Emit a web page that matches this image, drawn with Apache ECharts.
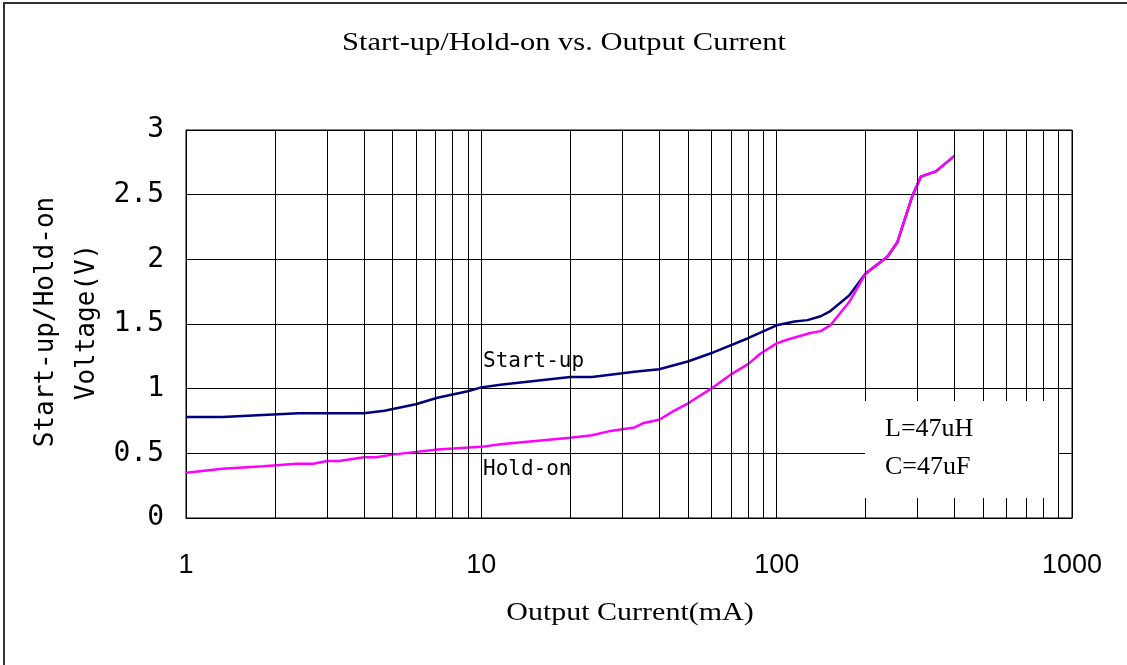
<!DOCTYPE html>
<html>
<head>
<meta charset="utf-8">
<title>Start-up/Hold-on vs. Output Current</title>
<script src="https://cdn.jsdelivr.net/npm/echarts@6/dist/echarts.min.js"></script>
<style>
  html, body { margin: 0; padding: 0; background: #fff; }
  #chart { width: 1127px; height: 665px; }
</style>
</head>
<body>
<div id="chart"></div>
<script>
// (mA, V)
const startUpCurrent = [1, 1.33, 2.4, 4.0, 4.7, 6.0, 7.1, 9.0, 10, 11.6, 20, 23.7, 33, 40, 50, 61, 80, 100, 115, 127, 141, 152, 176, 200, 237, 256, 288, 308, 346, 400]
const startUpVoltage = [0.78, 0.78, 0.81, 0.81, 0.83, 0.88, 0.93, 0.98, 1.01, 1.03, 1.09, 1.09, 1.13, 1.15, 1.21, 1.28, 1.39, 1.49, 1.52, 1.53, 1.56, 1.60, 1.72, 1.89, 2.02, 2.13, 2.49, 2.64, 2.68, 2.80]

const holdOnCurrent = [1, 1.33, 1.82, 2.37, 2.7, 3.0, 3.3, 4.0, 4.4, 5.0, 7.1, 10, 11.6, 20, 23.7, 27, 33, 35.5, 40, 45, 50, 60, 70, 80, 88, 100, 109, 130, 141, 152, 176, 200, 217, 237, 256, 288, 308, 346, 400]
const holdOnVoltage = [0.35, 0.38, 0.40, 0.42, 0.42, 0.44, 0.44, 0.47, 0.47, 0.49, 0.53, 0.55, 0.57, 0.62, 0.64, 0.67, 0.70, 0.735, 0.76, 0.83, 0.885, 1.00, 1.11, 1.19, 1.27, 1.35, 1.38, 1.43, 1.445, 1.49, 1.67, 1.89, 1.95, 2.02, 2.13, 2.49, 2.64, 2.68, 2.80]

// vertical grid lines between the decades
const minorGrid = [2, 3, 4, 5, 6, 7, 8, 9, 20, 30, 40, 50, 60, 70, 80, 90, 200, 300, 400, 500, 600, 700, 800, 900]

const noteLines = ['L=47uH', 'C=47uF']

const serif = '"Liberation Serif", "Times New Roman", serif'
const sans = '"Liberation Sans", Arial, sans-serif'
const mono = '"DejaVu Sans Mono", monospace'

const chart = echarts.init(document.getElementById('chart'), null, { renderer: 'canvas' })

const zip = (xs, ys) => xs.map((x, i) => [x, ys[i]])

chart.setOption({
  animation: false,
  backgroundColor: '#fff',
  grid: {
    left: 186,
    right: 55,
    top: 130,
    bottom: 147,
    show: true,
    borderColor: '#000',
    borderWidth: 1
  },
  xAxis: {
    type: 'log',
    logBase: 10,
    min: 1,
    max: 1000,
    axisLine: { lineStyle: { color: '#000', width: 1 } },
    axisTick: { show: false },
    axisLabel: {
      color: '#000',
      fontFamily: sans,
      fontSize: 27,
      margin: 34,
      formatter: v => String(Math.round(v))
    },
    splitLine: { show: true, lineStyle: { color: '#000', width: 1 } }
  },
  yAxis: {
    type: 'value',
    min: 0,
    max: 3,
    interval: 0.5,
    axisLine: { show: true, lineStyle: { color: '#000', width: 1 } },
    axisTick: { show: false },
    axisLabel: { color: '#000', fontFamily: mono, fontSize: 28, margin: 22, padding: [4, 0, 0, 0] },
    splitLine: { show: true, lineStyle: { color: '#000', width: 1 } }
  },
  series: [
    {
      name: 'grid',
      type: 'line',
      data: [],
      silent: true,
      z: 1,
      markLine: {
        silent: true,
        symbol: ['none', 'none'],
        label: { show: false },
        lineStyle: { color: '#000', type: 'solid', width: 1 },
        data: minorGrid.map(v => ({ xAxis: v }))
      }
    },
    {
      name: 'Start-up',
      type: 'line',
      data: zip(startUpCurrent, startUpVoltage),
      symbol: 'none',
      z: 3,
      lineStyle: { color: '#000080', width: 2.5 }
    },
    {
      name: 'Hold-on',
      type: 'line',
      data: zip(holdOnCurrent, holdOnVoltage),
      symbol: 'none',
      z: 4,
      lineStyle: { color: '#ff00ff', width: 2.5 }
    }
  ],
  graphic: [
    {
      type: 'rect',
      z: 0,
      silent: true,
      shape: { x: 4, y: 3, width: 1140, height: 680 },
      style: { fill: 'none', stroke: '#333', lineWidth: 2 }
    },
    {
      type: 'text',
      x: 564,
      y: 43,
      scaleX: 1.22,
      style: {
        text: 'Start-up/Hold-on vs. Output Current',
        font: '25px ' + serif,
        fill: '#000',
        align: 'center',
        verticalAlign: 'middle'
      }
    },
    {
      type: 'text',
      x: 630,
      y: 613,
      scaleX: 1.2,
      style: {
        text: 'Output Current(mA)',
        font: '25px ' + serif,
        fill: '#000',
        align: 'center',
        verticalAlign: 'middle'
      }
    },
    {
      type: 'text',
      x: 67,
      y: 322,
      rotation: Math.PI / 2,
      style: {
        text: 'Start-up/Hold-on\nVoltage(V)',
        font: '26px ' + mono,
        lineHeight: 41,
        fill: '#000',
        align: 'center',
        verticalAlign: 'middle'
      }
    },
    {
      type: 'text',
      x: 483,
      y: 362,
      z: 10,
      style: { text: 'Start-up', font: '21px ' + mono, fill: '#000', align: 'left', verticalAlign: 'middle' }
    },
    {
      type: 'text',
      x: 483,
      y: 470,
      z: 10,
      style: { text: 'Hold-on', font: '21px ' + mono, fill: '#000', align: 'left', verticalAlign: 'middle' }
    },
    {
      type: 'rect',
      z: 10,
      silent: true,
      shape: { x: 865, y: 401, width: 193, height: 97 },
      style: { fill: '#fff', stroke: 'none' }
    },
    {
      type: 'text',
      x: 885,
      y: 429,
      z: 11,
      style: { text: noteLines[0], font: '26px ' + serif, fill: '#000', align: 'left', verticalAlign: 'middle' }
    },
    {
      type: 'text',
      x: 885,
      y: 467,
      z: 11,
      style: { text: noteLines[1], font: '26px ' + serif, fill: '#000', align: 'left', verticalAlign: 'middle' }
    }
  ]
})

window.addEventListener('resize', () => chart.resize())
</script>
</body>
</html>
